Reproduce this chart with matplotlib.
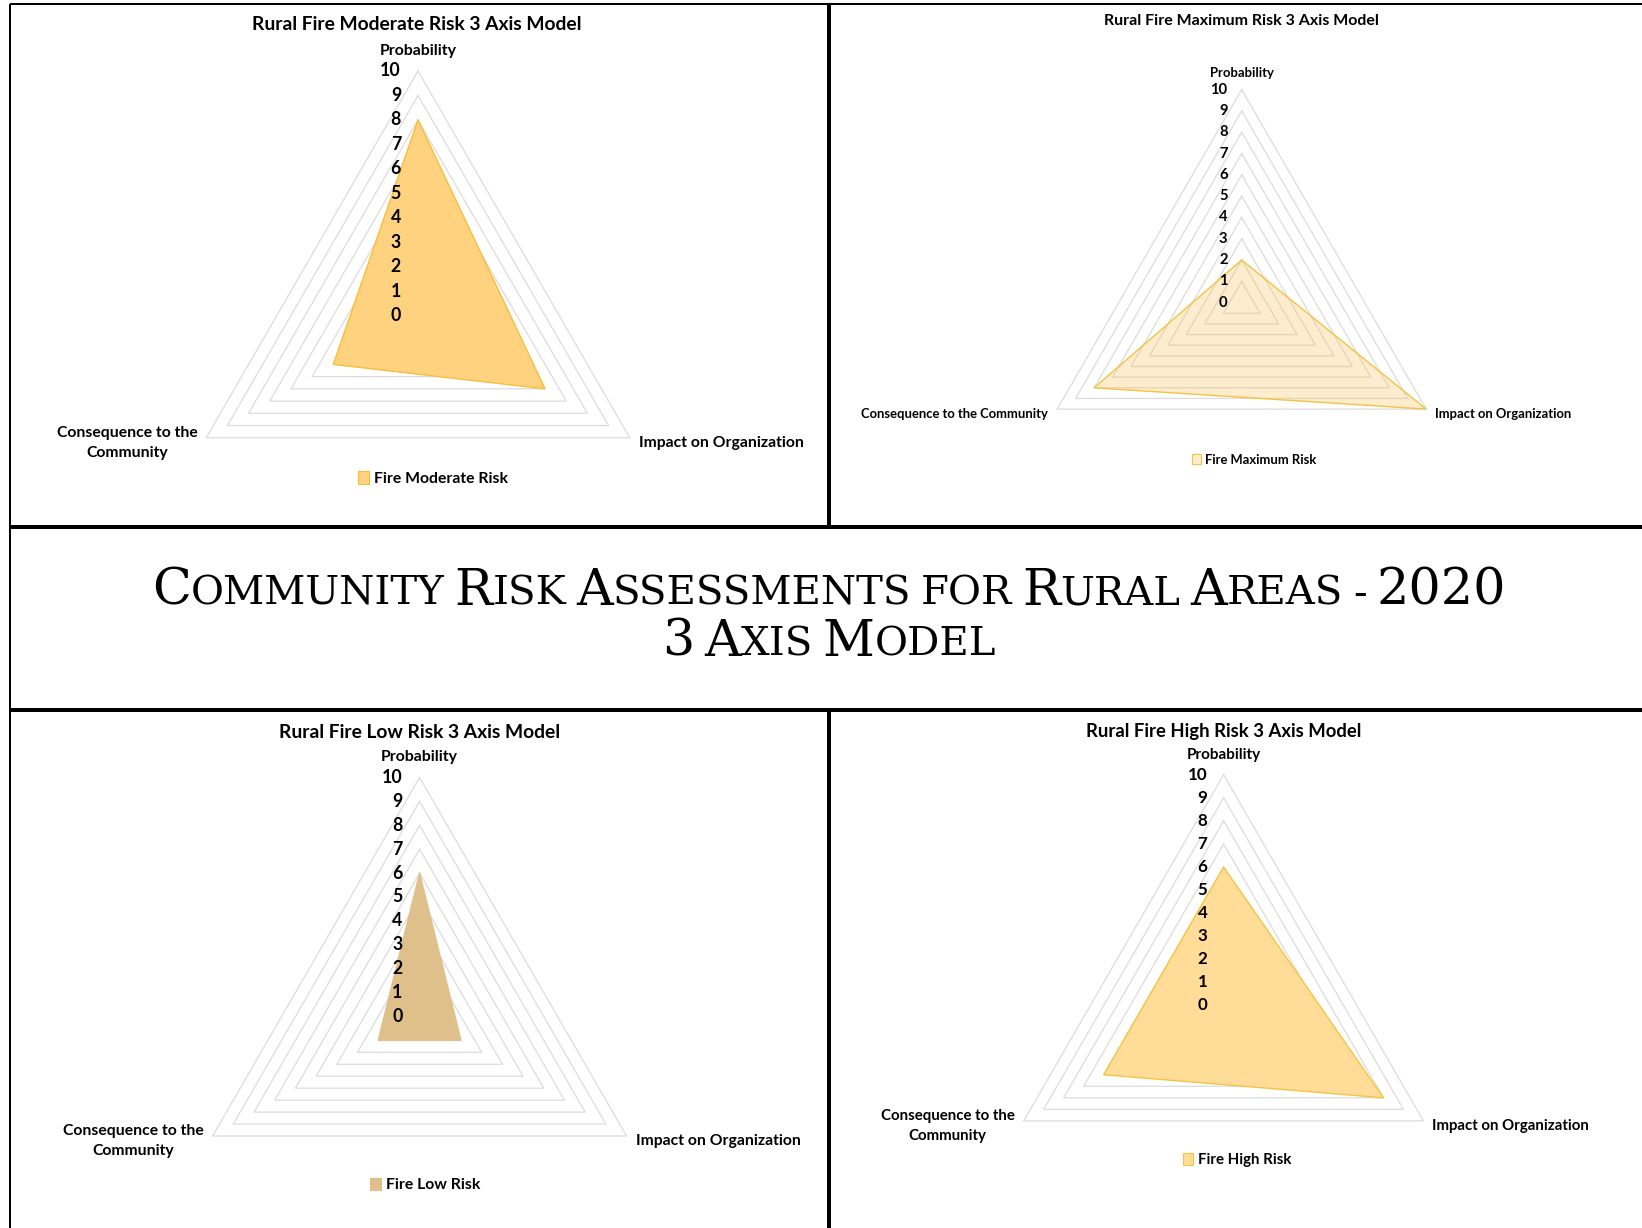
import numpy as np
import matplotlib.pyplot as plt
from matplotlib.colors import to_rgba
from matplotlib.lines import Line2D
from matplotlib.patches import Patch
from matplotlib.offsetbox import TextArea, HPacker, AnnotationBbox

plt.rcParams['font.family'] = ['Lato', 'DejaVu Sans']

W, H = 1642, 1228

# data
axis_names = ["Probability", "Impact on Organization", "Consequence to the\nCommunity"]
levels = list(range(0, 11))

moderate = [8, 6, 4]
maximum = [2, 10, 8]
low = [6, 2, 2]
high = [6, 8, 6]

titles = ["Rural Fire Moderate Risk 3 Axis Model", "Rural Fire Maximum Risk 3 Axis Model",
          "Rural Fire Low Risk 3 Axis Model", "Rural Fire High Risk 3 Axis Model"]
series_names = ["Fire Moderate Risk", "Fire Maximum Risk", "Fire Low Risk", "Fire High Risk"]
headline = ["Community Risk Assessments for Rural Areas - 2020", "3 Axis Model"]

fig = plt.figure(figsize=(W / 100, H / 100), dpi=100)


def fx(x):
    return x / W


def fy(y):
    return 1 - y / H


def draw_radar(values, title, name, cx, cy, R, scale, face, edge, fill_alpha, title_xy, legend_xy, one_line=False):
    ax = fig.add_axes([fx(cx - R), fy(cy + R), 2 * R / W, 2 * R / H], projection='polar')
    ax.set_theta_zero_location('N')
    ax.set_theta_direction(-1)
    ax.set_ylim(0, 10)
    ax.grid(False)
    ax.set_xticks([])
    ax.set_yticks([])
    ax.spines['polar'].set_visible(False)
    ax.patch.set_visible(False)

    theta = np.deg2rad([0, 120, 240, 0])
    for lvl in levels[1:]:
        ax.plot(theta, [lvl] * 4, color='#DCDCDC', lw=0.9, zorder=1, clip_on=False)

    vals = list(values) + [values[0]]
    ax.fill(theta, vals, facecolor=to_rgba(face, fill_alpha), edgecolor=edge, lw=1.0,
            zorder=2, clip_on=False)

    # value labels on the probability axis
    for lvl in levels:
        ax.annotate(str(lvl), xy=(0, lvl), xytext=(-17 * scale, 0), textcoords='offset pixels',
                    ha='right', va='center', fontsize=12.8 * scale, fontweight='bold', zorder=3)

    lab_size = 11.3 * scale
    ax.annotate(axis_names[0], xy=(0, 10), xytext=(0, 20 * scale), textcoords='offset pixels',
                ha='center', va='center', fontsize=11.4 * scale, fontweight='bold')
    ax.annotate(axis_names[1], xy=(np.deg2rad(120), 10), xytext=(9, -5), textcoords='offset pixels',
                ha='left', va='center', fontsize=lab_size, fontweight='bold')
    cons = axis_names[2].replace("\n", " ") if one_line else axis_names[2]
    ax.annotate(cons, xy=(np.deg2rad(240), 10), xytext=(-9, -5), textcoords='offset pixels',
                ha='right', va='center', fontsize=lab_size, fontweight='bold',
                multialignment='center', linespacing=1.55)

    fig.text(fx(title_xy[0]), fy(title_xy[1]), title, ha='center', va='center',
             fontsize=13.9 * scale, fontweight='bold')

    handle = Patch(facecolor=to_rgba(face, fill_alpha), edgecolor=edge, lw=0.8)
    ax.legend(handles=[handle], labels=[name], loc='center',
              bbox_to_anchor=(fx(legend_xy[0]), fy(legend_xy[1])), bbox_transform=fig.transFigure,
              frameon=False, handlelength=0.7, handleheight=0.85, handletextpad=0.3,
              borderpad=0, prop=dict(weight='bold', size=lab_size))


draw_radar(moderate, titles[0], series_names[0], 418, 315.5, 244.5, 1.0,
           '#FFD280', '#F7BE3A', 1.0, (417, 25), (433, 478.5))
draw_radar(maximum, titles[1], series_names[1], 1241.7, 302.6, 213, 0.83,
           '#F9C25A', '#F5C342', 0.3, (1241, 21), (1254, 459.5), one_line=True)
draw_radar(low, titles[2], series_names[2], 419.6, 1016.5, 239, 1.0,
           '#E0C08A', '#E0C08A', 1.0, (419.5, 732.5), (425, 1185))
draw_radar(high, titles[3], series_names[3], 1223.6, 1005.5, 230.8, 0.96,
           '#FFDD98', '#F6C443', 1.0, (1223.5, 731), (1237, 1160))


# headline in small caps
def small_caps_line(text, big=36.5, small=29):
    words = []
    for word in text.split(" "):
        parts = []
        run, run_big = "", None
        for ch in word:
            is_big = ch.isupper() or ch.isdigit()
            if run_big is None or is_big == run_big:
                run += ch.upper()
            else:
                parts.append(TextArea(run, textprops=dict(fontsize=big if run_big else small,
                                                          family='DejaVu Serif')))
                run = ch.upper()
            run_big = is_big
        parts.append(TextArea(run, textprops=dict(fontsize=big if run_big else small,
                                                  family='DejaVu Serif')))
        words.append(HPacker(children=parts, align='baseline', pad=0, sep=0))
    return HPacker(children=words, align='baseline', pad=0, sep=7)


for line, y in zip(headline, [591, 642]):
    box = AnnotationBbox(small_caps_line(line), (fx(829), fy(y)), xycoords='figure fraction',
                         box_alignment=(0.5, 0.5), frameon=False, pad=0)
    fig.add_artist(box)

# panel borders
borders = [
    ((10, 1642), (4, 4), 2.0),
    ((10, 10), (4, 1228), 2.0),
    ((829, 829), (4, 527), 4.0),
    ((829, 829), (709, 1228), 4.0),
    ((10, 1642), (527, 527), 4.0),
    ((10, 1642), (709.5, 709.5), 4.0),
]
for xs, ys, w in borders:
    fig.add_artist(Line2D([fx(x) for x in xs], [fy(y) for y in ys], transform=fig.transFigure,
                          color='black', lw=w * 0.72, solid_capstyle='butt'))

fig.savefig('out.png', dpi=100, facecolor='white')
